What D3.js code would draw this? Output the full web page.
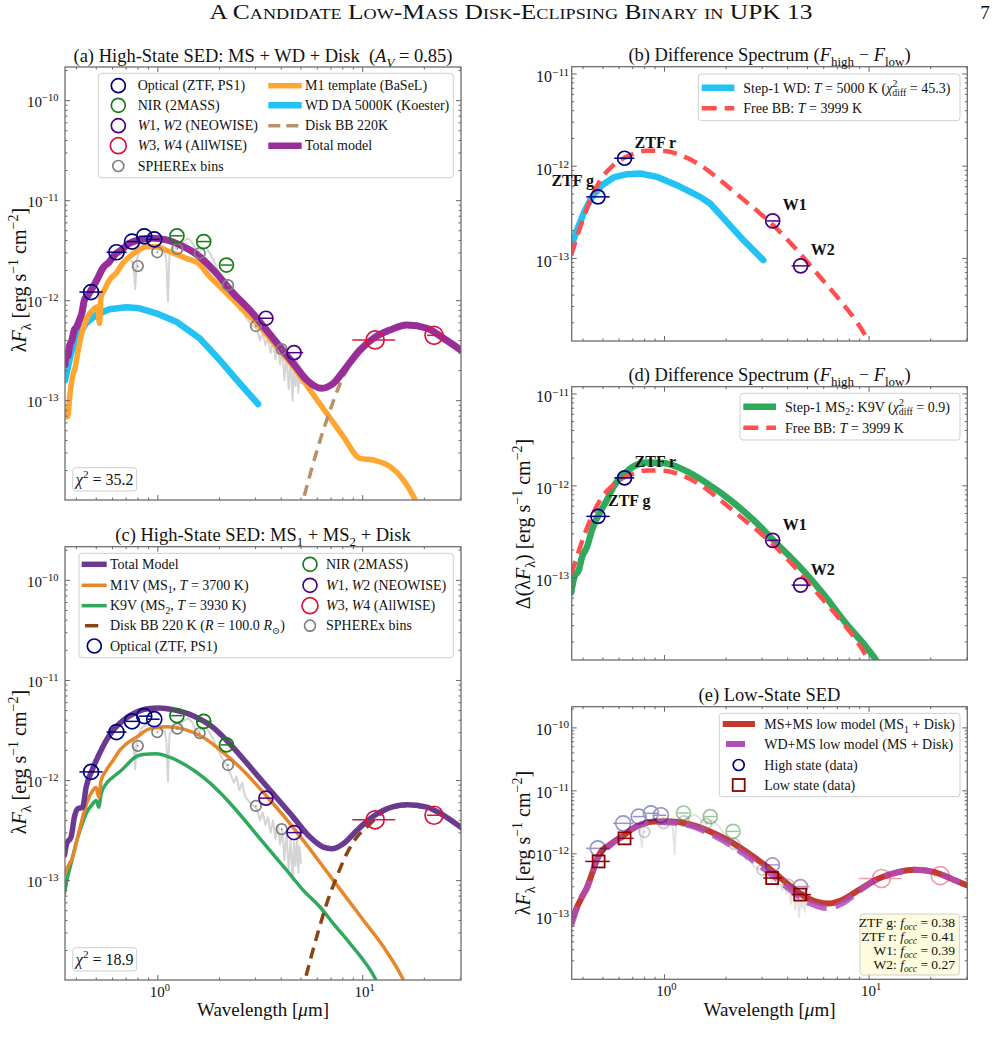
<!DOCTYPE html>
<html>
<head>
<meta charset="utf-8">
<script src="https://cdn.jsdelivr.net/npm/d3@7"></script>
<style>
  body { margin: 0; background: #fff; }
  svg text { font-family: "Liberation Serif", "DejaVu Serif", serif; fill: #111; }
</style>
</head>
<body>
<div id="figure"></div>
<script>
// ------------------ DATA ------------------
// wavelengths in micron, fluxes as lambda*F_lambda in erg s^-1 cm^-2

// high-state photometry
const optLam  = [0.472, 0.628, 0.748, 0.858, 0.960];
const optFlux = [1.22e-12, 3.05e-12, 3.90e-12, 4.40e-12, 4.10e-12];
const optLo   = [0.414, 0.561, 0.700, 0.810, 0.890];
const optHi   = [0.537, 0.703, 0.800, 0.930, 1.020];

const nirLam  = [1.239, 1.674, 2.162];
const nirFlux = [4.45e-12, 3.90e-12, 2.27e-12];
const nirLo   = [1.16, 1.55, 2.02];
const nirHi   = [1.32, 1.80, 2.31];

const neoLam  = [3.37, 4.62];
const neoFlux = [6.67e-13, 3.02e-13];
const neoLo   = [3.12, 4.32];
const neoHi   = [3.65, 5.12];

const allwiseLam  = [11.5, 22.3];
const allwiseFlux = [4.05e-13, 4.50e-13];
const allwiseLo   = [8.9, 20.6];
const allwiseHi   = [14.4, 23.9];

const spxLam  = [0.798, 0.993, 1.244, 1.60, 2.20, 3.01, 4.02];
const spxFlux = [2.22e-12, 3.05e-12, 3.30e-12, 2.98e-12, 1.43e-12, 5.58e-13, 3.27e-13];

// SPHEREx spectrum (grey, behind everything)
const spxSpectrum = [
  [0.74,2.5e-12],[0.76,2.3e-12],[0.775,1.3e-12],[0.79,2.6e-12],[0.81,3.0e-12],[0.84,3.4e-12],[0.88,3.6e-12],
  [0.93,3.5e-12],[0.98,3.3e-12],[1.03,3.2e-12],[1.08,3.1e-12],[1.10,2.5e-12],[1.12,9.8e-13],[1.14,2.9e-12],
  [1.19,3.3e-12],[1.26,3.5e-12],[1.33,3.9e-12],[1.40,4.2e-12],[1.46,3.9e-12],[1.52,3.3e-12],[1.58,3.1e-12],
  [1.65,3.3e-12],[1.72,3.4e-12],[1.79,3.0e-12],[1.86,2.6e-12],[1.95,2.1e-12],[2.05,1.7e-12],[2.15,1.45e-12],
  [2.25,1.2e-12],[2.35,9.5e-13],[2.42,1.1e-12],[2.5,8.0e-13],[2.58,9.5e-13],[2.66,7.0e-13],[2.75,6.4e-13],
  [2.85,5.8e-13],[2.95,5.5e-13],[3.05,5.2e-13],[3.15,4.0e-13],[3.25,4.8e-13],[3.35,3.6e-13],[3.45,4.3e-13],
  [3.55,3.0e-13],[3.65,4.0e-13],[3.75,2.6e-13],[3.85,3.6e-13],[3.95,2.3e-13],[4.05,3.2e-13],[4.15,1.6e-13],
  [4.25,3.0e-13],[4.35,1.3e-13],[4.45,2.6e-13],[4.55,1.0e-13],[4.62,2.4e-13],[4.70,1.4e-13],[4.78,2.7e-13],
  [4.85,1.2e-13],[4.92,2.2e-13],[5.0,1.5e-13]
];

// panel (a) models
const aTotalModel = [
  [0.352,2.3e-13],[0.358,3.0e-13],[0.364,2.8e-13],[0.370,3.5e-13],[0.380,4.0e-13],[0.391,5.1e-13],[0.400,5.4e-13],
  [0.414,6.4e-13],[0.425,7.4e-13],[0.438,1.02e-12],[0.455,1.12e-12],[0.472,1.28e-12],[0.490,1.45e-12],
  [0.508,1.67e-12],[0.538,2.11e-12],[0.580,2.45e-12],[0.614,2.86e-12],[0.662,3.21e-12],[0.727,3.75e-12],
  [0.814,4.05e-12],[0.945,4.2e-12],[1.10,4.05e-12],[1.28,3.61e-12],[1.60,2.75e-12],[1.93,1.88e-12],
  [2.33,1.19e-12],[2.81,8.07e-13],[3.39,5.09e-13],[3.94,3.47e-13],[4.58,2.37e-13],[5.33,1.61e-13],
  [6.31,1.33e-13],[7.19,1.49e-13],[8.36,2.19e-13],[9.71,3.21e-13],[11.3,4.21e-13],[13.6,5.09e-13],
  [16.4,5.71e-13],[20.6,5.3e-13],[24.8,4.21e-13],[30.5,3.15e-13]
];
const aM1Template = [
  [0.350,8.1e-14],[0.3626,6.9e-14],[0.3726,1.19e-13],[0.3837,1.74e-13],[0.3955,2.19e-13],[0.4059,2.98e-13],
  [0.4295,5.09e-13],[0.4544,6.92e-13],[0.4807,8.07e-13],[0.5084,8.71e-13],[0.5184,5.94e-13],[0.5284,1.10e-12],
  [0.5483,1.28e-12],[0.580,1.61e-12],[0.6256,1.88e-12],[0.6743,2.37e-12],[0.7271,2.75e-12],[0.784,3.09e-12],
  [0.877,3.47e-12],[0.982,3.47e-12],[1.141,3.09e-12],[1.377,2.65e-12],[1.57,2.37e-12],[1.791,1.74e-12],
  [2.162,1.19e-12],[2.607,8.07e-13],[3.147,5.5e-13],[3.798,3.47e-13],[4.58,2.19e-13],[5.528,1.28e-13],
  [6.674,7.48e-14],[8.045,4.37e-14],[9.71,2.65e-14],[11.28,2.55e-14],[13.62,2.19e-14],[15.82,1.61e-14],
  [17.71,1.10e-14],[18.6,8.8e-15]
];
const aWDKoester = [
  [0.352,1.6e-13],[0.3768,2.98e-13],[0.4059,4.37e-13],[0.4463,5.94e-13],[0.4994,7.19e-13],[0.580,8.2e-13],
  [0.7003,8.59e-13],[0.8137,8.39e-13],[0.982,7.48e-13],[1.23,6.17e-13],[1.60,4.2e-13],[2.004,2.55e-13],
  [2.51,1.49e-13],[3.086,9.27e-14]
];
const aDiskBB = [
  [4.7,5e-15],[5.127,1.02e-14],[6.674,6.41e-14],[8.045,1.74e-13],[9.006,2.55e-13],[10.08,3.61e-13],
  [11.5,4.5e-13],[13.6,5.05e-13],[16.4,5.6e-13],[20.6,5.25e-13],[24.8,4.15e-13],[30.5,3.1e-13]
];

// panel (c) models
const cTotalModel = [
  [0.350,1.8e-13],[0.3585,2.34e-13],[0.3768,2.72e-13],[0.3912,4.31e-13],[0.4059,5.22e-13],[0.4295,5.42e-13],
  [0.4463,8.57e-13],[0.4807,1.31e-12],[0.518,1.85e-12],[0.559,2.51e-12],[0.603,3.16e-12],[0.6743,3.97e-12],
  [0.7546,4.62e-12],[0.877,5.19e-12],[1.019,5.31e-12],[1.184,5.11e-12],[1.483,4.45e-12],[1.858,3.4e-12],
  [2.328,2.15e-12],[2.917,1.26e-12],[3.655,7.37e-13],[4.58,4.31e-13],[5.528,2.72e-13],[6.422,2.16e-13],
  [7.06,2.08e-13],[8.045,2.34e-13],[9.357,3.17e-13],[10.87,4.15e-13],[13.12,5.22e-13],[16.44,5.73e-13],
  [20.6,5.42e-13],[24.83,4.48e-13],[30.5,3.35e-13]
];
const cM1V = [
  [0.350,1.15e-13],[0.370,1.48e-13],[0.3837,1.72e-13],[0.4059,2.72e-13],[0.4295,4.31e-13],[0.4544,6.32e-13],
  [0.4807,7.95e-13],[0.4994,8.57e-13],[0.5144,6.82e-13],[0.5284,1.0e-12],[0.559,1.26e-12],[0.603,1.58e-12],
  [0.6497,1.99e-12],[0.7003,2.32e-12],[0.784,2.7e-12],[0.911,3.28e-12],[1.099,3.45e-12],[1.326,3.28e-12],
  [1.661,2.7e-12],[2.08,1.91e-12],[2.607,1.26e-12],[3.266,7.64e-13],[4.091,4.48e-13],[5.127,2.52e-13],
  [6.422,1.37e-13],[8.045,7.41e-14],[10.08,4.02e-14],[12.63,2.18e-14],[15.54,1.09e-14],[17.06,7.2e-15]
];
const cK9V = [
  [0.350,7.5e-14],[0.3626,1.09e-13],[0.3768,1.48e-13],[0.398,2.34e-13],[0.4218,3.42e-13],[0.4463,4.65e-13],
  [0.4807,5.86e-13],[0.4994,6.32e-13],[0.5144,5.42e-13],[0.5284,7.37e-13],[0.559,9.27e-13],[0.603,1.08e-12],
  [0.662,1.26e-12],[0.7003,1.41e-12],[0.7546,1.65e-12],[0.8444,1.82e-12],[0.982,1.85e-12],[1.141,1.71e-12],
  [1.377,1.41e-12],[1.661,1.08e-12],[2.004,7.64e-13],[2.42,5.02e-13],[2.917,3.18e-13],[3.522,2.0e-13],
  [4.251,1.27e-13],[5.127,8.0e-14],[6.187,5.45e-14],[7.189,3.72e-14],[8.679,2.35e-14],[10.08,1.6e-14],
  [11.5,1.05e-14],[12.4,7.2e-15]
];
const cDiskBB = [
  [4.8,5e-15],[5.225,1.01e-14],[5.963,2.74e-14],[6.674,5.9e-14],[7.467,1.09e-13],[8.36,1.86e-13],
  [9.357,2.72e-13],[10.47,3.42e-13],[13.12,5.1e-13],[16.44,5.6e-13],[20.6,5.3e-13],[24.83,4.4e-13],[30.5,3.25e-13]
];

// difference spectrum (F_high - F_low)
const diffBand = ["ZTF g", "ZTF r", "W1", "W2"];
const diffLam  = [0.473, 0.638, 3.38, 4.63];
const diffFlux = [4.65e-13, 1.22e-12, 2.55e-13, 8.3e-14];
const diffLo   = [0.415, 0.568, 3.16, 4.18];
const diffHi   = [0.540, 0.712, 3.66, 5.14];

const bStep1WD = [
  [0.350,1.35e-13],[0.3737,2.03e-13],[0.4026,3.08e-13],[0.4423,4.65e-13],[0.495,6.22e-13],[0.5639,7.55e-13],
  [0.6555,8.19e-13],[0.7612,8.34e-13],[0.918,7.66e-13],[1.15,6.22e-13],[1.493,4.65e-13],[1.671,3.94e-13],
  [2.016,2.49e-13],[2.429,1.58e-13],[3.041,9.57e-14]
];
const freeBB3999 = [
  [0.350,1.08e-13],[0.388,2.2e-13],[0.4341,4.28e-13],[0.4857,7.05e-13],[0.5639,1.03e-12],[0.6805,1.32e-12],
  [0.8206,1.47e-12],[0.989,1.46e-12],[1.193,1.32e-12],[1.493,1.03e-12],[1.87,7.05e-13],[2.341,4.65e-13],
  [2.93,3.08e-13],[3.667,1.94e-13],[4.592,1.13e-13],[5.748,6.32e-14],[7.195,3.53e-14],[8.68,2.06e-14],
  [9.89,1.3e-14],[10.66,9.7e-15]
];
const dStep1K9V = [
  [0.350,6.9e-14],[0.3627,1.02e-13],[0.3806,1.2e-13],[0.3955,1.68e-13],[0.4182,2.16e-13],[0.4423,3.3e-13],
  [0.4857,5.24e-13],[0.5236,7.03e-13],[0.5639,9.82e-13],[0.631,1.32e-12],[0.7061,1.63e-12],[0.8206,1.8e-12],
  [0.989,1.77e-12],[1.238,1.5e-12],[1.61,1.07e-12],[2.092,7.03e-13],[2.718,4.25e-13],[3.534,2.36e-13],
  [4.592,1.31e-13],[5.966,6.68e-14],[7.76,3.13e-14],[9.71,1.74e-14],[10.87,1.24e-14],[11.53,9.7e-15]
];

// panel (e) low-state
const lowLam  = [0.4766, 0.638, 3.36, 4.61];
const lowFlux = [7.56e-13, 1.76e-12, 4.12e-13, 2.25e-13];
const lowLo   = [0.410, 0.586, 3.04, 4.18];
const lowHi   = [0.540, 0.706, 3.74, 5.20];

const eMSMSLow = [
  [0.350,8.3e-14],[0.3737,1.43e-13],[0.3955,2.06e-13],[0.4182,2.96e-13],[0.4423,4.83e-13],[0.468,8.34e-13],
  [0.495,1.13e-12],[0.533,1.35e-12],[0.5746,1.62e-12],[0.631,1.95e-12],[0.6934,2.48e-12],[0.7757,2.98e-12],
  [0.901,3.27e-12],[1.087,3.27e-12],[1.31,2.98e-12],[1.64,2.33e-12],[2.132,1.52e-12],[2.669,9.4e-13],
  [3.341,5.45e-13],[4.183,2.96e-13],[5.04,1.95e-13],[6.31,1.62e-13],[7.335,1.83e-13],[8.84,2.63e-13],
  [11.06,4.03e-13],[13.85,5.12e-13],[16.71,5.58e-13],[20.92,5.12e-13],[25.23,4.03e-13],[30.5,3.1e-13]
];
const eWDMSLow = [
  [0.350,7.2e-14],[0.374,1.4e-13],[0.395,2.1e-13],[0.418,2.8e-13],[0.442,4.7e-13],[0.468,8.0e-13],
  [0.495,1.08e-12],[0.533,1.3e-12],[0.575,1.6e-12],[0.631,1.9e-12],[0.693,2.45e-12],[0.776,2.95e-12],
  [0.901,3.2e-12],[1.087,3.15e-12],[1.31,2.85e-12],[1.64,2.15e-12],[2.13,1.35e-12],[2.67,8.2e-13],
  [3.34,4.7e-13],[4.18,2.6e-13],[5.04,1.7e-13],[6.31,1.38e-13],[7.3,1.6e-13],[8.84,2.5e-13],
  [11.06,4.0e-13],[13.85,5.1e-13],[16.7,5.58e-13],[20.9,5.12e-13],[25.2,4.03e-13],[30.5,3.1e-13]
];

const foccBand  = ["ZTF g", "ZTF r", "W1", "W2"];
const foccValue = ["0.38", "0.41", "0.39", "0.27"];

// ------------------ SETUP ------------------
const xDomain = [0.352, 30.2];
const sedDomain = [1.016e-14, 2.17e-10];
const diffDomain = [1.27e-14, 1.2e-11];

const C = {
  navy: "#000080", green: "#167c16", indigo: "#4b0082", crimson: "#dc143c", grey: "#808080",
  aTotal: "#982e98", aM1: "#ffa632", aWD: "#22c3f4", aDisk: "#b8916c",
  cTotal: "#6b3a8e", cM1: "#e8862a", cK9: "#2faa5c", cDisk: "#8b4513",
  bbRed: "#ff4f4f", lowRed: "#c33b2c", lowMag: "#b14cbb", lowSq: "#8b0000"
};
const TITLE_SIZE = 18.5, YLABEL_SIZE = 20, XLABEL_SIZE = 19, LEG = 14;

const svg = d3.select("#figure").append("svg").attr("width", 1004).attr("height", 1044);
svg.append("rect").attr("width", 1004).attr("height", 1044).attr("fill", "#fff");
const defs = svg.append("defs");

// rich text: parts are strings or [text, style, dx]; style words: i, sub, sup
function rich(txt, parts, size) {
  let shift = 0;
  parts.forEach(p => {
    const [str, st, dx] = typeof p === "string" ? [p, "", 0] : [p[0], p[1] || "", p[2] || 0];
    const flags = st.split(" ");
    let target = 0;
    if (flags.includes("sub")) target = 0.25 * size;
    if (flags.includes("sup")) target = -0.42 * size;
    const t = txt.append("tspan").text(str).attr("dy", target - shift);
    if (dx) t.attr("dx", dx);
    shift = target;
    if (target !== 0) t.style("font-size", (0.7 * size) + "px");
    if (flags.includes("i")) t.style("font-style", "italic");
  });
  return txt;
}

function textAt(g, x, y, parts, size, anchor) {
  const t = g.append("text").attr("x", x).attr("y", y)
    .attr("text-anchor", anchor || "start").style("font-size", size + "px");
  return rich(t, parts, size);
}

function makePanel(id, box, yDomain) {
  const x = d3.scaleLog().domain(xDomain).range([box.left, box.right]);
  const y = d3.scaleLog().domain(yDomain).range([box.bottom, box.top]);
  defs.append("clipPath").attr("id", "clip-" + id).append("rect")
    .attr("x", box.left).attr("y", box.top)
    .attr("width", box.right - box.left).attr("height", box.bottom - box.top);
  const g = svg.append("g").attr("class", "panel-" + id);
  return {
    id, box, x, y,
    plot: g.append("g").attr("clip-path", `url(#clip-${id})`),
    marks: g.append("g"),
    axes: g.append("g"),
    legend: g.append("g")
  };
}

const isMajor = t => Math.abs(Math.log10(t) - Math.round(Math.log10(t))) < 1e-9;
const expText = t => String(Math.round(Math.log10(t))).replace("-", "\u2212");

function drawAxes(p, o) {
  const { left, right, top, bottom } = p.box;
  const a = p.axes;
  const tickLine = (x1, y1, x2, y2) => a.append("line")
    .attr("x1", x1).attr("y1", y1).attr("x2", x2).attr("y2", y2)
    .attr("stroke", "#666").attr("stroke-width", 1);

  p.x.ticks().forEach(t => {
    const xx = p.x(t), len = isMajor(t) ? 5 : 2.5;
    tickLine(xx, bottom, xx, bottom - len);
    tickLine(xx, top, xx, top + len);
  });
  p.y.ticks().forEach(t => {
    const yy = p.y(t), len = isMajor(t) ? 5 : 2.5;
    tickLine(left, yy, left + len, yy);
    tickLine(right, yy, right - len, yy);
  });
  a.append("rect").attr("x", left).attr("y", top)
    .attr("width", right - left).attr("height", bottom - top)
    .attr("fill", "none").attr("stroke", "#6e6e6e").attr("stroke-width", 1.3);

  p.y.ticks().filter(isMajor).forEach(t => {
    textAt(a, left - o.yGap, p.y(t) + o.yBase, ["10", [expText(t), "sup"]], o.tickSize, "end");
  });
  if (o.xTicks) {
    p.x.ticks().filter(isMajor).forEach(t => {
      textAt(a, p.x(t) + 2, bottom + 17, ["10", [expText(t), "sup"]], 15, "middle");
    });
    textAt(a, (left + right) / 2, 1016, ["Wavelength [", ["\u03bc", "i"], "m]"], XLABEL_SIZE, "middle");
  }
  if (o.title) textAt(a, (left + right) / 2, o.titleY, o.title, TITLE_SIZE, "middle");
  if (o.yLabel) {
    const t = a.append("text").attr("text-anchor", "middle").style("font-size", YLABEL_SIZE + "px")
      .attr("transform", `translate(${o.yLabelX},${o.yLabelY}) rotate(-90)`);
    rich(t, o.yLabel, YLABEL_SIZE);
  }
}

function drawLine(p, data, color, width, dash, curve, opacity) {
  const line = d3.line().x(d => p.x(d[0])).y(d => p.y(d[1])).curve(curve || d3.curveMonotoneX);
  return p.plot.append("path").datum(data).attr("d", line)
    .attr("fill", "none").attr("stroke", color).attr("stroke-width", width)
    .attr("stroke-dasharray", dash || null)
    .attr("stroke-linejoin", "round").attr("stroke-linecap", dash ? "butt" : "round")
    .attr("opacity", opacity == null ? 1 : opacity);
}

function drawPoints(p, lam, flux, lo, hi, color, r, opacity, dot) {
  const pts = lam.map((l, i) => ({ l, f: flux[i], lo: lo ? lo[i] : null, hi: hi ? hi[i] : null }));
  const g = p.marks.append("g").attr("opacity", opacity == null ? 1 : opacity);
  g.selectAll("line").data(pts.filter(d => d.lo != null)).join("line")
    .attr("x1", d => p.x(d.lo)).attr("x2", d => p.x(d.hi))
    .attr("y1", d => p.y(d.f)).attr("y2", d => p.y(d.f))
    .attr("stroke", color).attr("stroke-width", 1.5);
  g.selectAll("circle.pt").data(pts).join("circle").attr("class", "pt")
    .attr("cx", d => p.x(d.l)).attr("cy", d => p.y(d.f)).attr("r", r)
    .attr("fill", "none").attr("stroke", color).attr("stroke-width", 1.7);
  if (dot) {
    g.selectAll("circle.dot").data(pts).join("circle").attr("class", "dot")
      .attr("cx", d => p.x(d.l)).attr("cy", d => p.y(d.f)).attr("r", 0.9).attr("fill", color);
  }
  return g;
}

function drawHighStatePhotometry(p, opacity) {
  drawPoints(p, spxLam, spxFlux, null, null, C.grey, 5.3, opacity, true);
  drawPoints(p, optLam, optFlux, optLo, optHi, C.navy, 7.5, opacity);
  drawPoints(p, nirLam, nirFlux, nirLo, nirHi, C.green, 7, opacity);
  drawPoints(p, neoLam, neoFlux, neoLo, neoHi, C.indigo, 7, opacity);
  drawPoints(p, allwiseLam, allwiseFlux, allwiseLo, allwiseHi, C.crimson, 9, opacity);
}

// legend helpers
function legBox(g, x1, y1, x2, y2, fill) {
  g.append("rect").attr("x", x1).attr("y", y1).attr("width", x2 - x1).attr("height", y2 - y1)
    .attr("rx", 3).attr("fill", fill || "#fff").attr("fill-opacity", 0.85)
    .attr("stroke", "#cfcfcf").attr("stroke-width", 1);
}
function legLine(g, x1, x2, y, color, width, dash) {
  g.append("line").attr("x1", x1).attr("x2", x2).attr("y1", y).attr("y2", y)
    .attr("stroke", color).attr("stroke-width", width).attr("stroke-dasharray", dash || null);
}
function legCircle(g, cx, cy, r, color) {
  g.append("circle").attr("cx", cx).attr("cy", cy).attr("r", r)
    .attr("fill", "none").attr("stroke", color).attr("stroke-width", 1.7);
}

const yLabelSED = ["\u03bb", ["F", "i"], ["\u03bb", "sub"], " [erg s", ["\u22121", "sup"], " cm", ["\u22122", "sup"], "]"];
const chi2 = (v) => [["\u03c7", "i"], ["2", "sup"], " = " + v];

// ------------------ HEADER ------------------
svg.append("text").attr("x", 511).attr("y", 19).attr("text-anchor", "middle")
  .style("font-size", "21px").style("font-variant", "small-caps")
  .attr("textLength", 603).attr("lengthAdjust", "spacingAndGlyphs")
  .text("A Candidate Low-Mass Disk-Eclipsing Binary in UPK 13");
svg.append("text").attr("x", 985).attr("y", 19).attr("text-anchor", "middle")
  .style("font-size", "19px").text("7");

// ------------------ PANEL (a) ------------------
const pA = makePanel("a", { left: 65, right: 461, top: 67, bottom: 500 }, sedDomain);
drawLine(pA, spxSpectrum, "#d4d4d4", 2, null, d3.curveLinear);
drawLine(pA, aWDKoester, C.aWD, 6.5, null, d3.curveLinear);
drawLine(pA, aM1Template, C.aM1, 5.5);
drawLine(pA, aDiskBB, C.aDisk, 3.5, "11 7");
drawLine(pA, aTotalModel, C.aTotal, 7);
drawHighStatePhotometry(pA, 1);
drawAxes(pA, {
  yGap: 6.5, yBase: 6.5, tickSize: 15, titleY: 62,
  title: ["(a) High-State SED: MS + WD + Disk\u00a0 (", ["A", "i"], ["V", "i sub"], " = 0.85)"],
  yLabel: yLabelSED, yLabelX: 26, yLabelY: 280
});
{
  const g = pA.legend;
  legBox(g, 98.3, 73.3, 453.3, 177.7);
  const rows = [85.7, 105.3, 125.7, 145.7, 166];
  legCircle(g, 118.3, rows[0], 7, C.navy);
  legCircle(g, 118.3, rows[1], 7, C.green);
  legCircle(g, 118.3, rows[2], 7, C.indigo);
  legCircle(g, 118.3, rows[3], 8, C.crimson);
  legCircle(g, 118.3, rows[4], 5.5, C.grey);
  textAt(g, 137.7, rows[0] + 4.5, ["Optical (ZTF, PS1)"], LEG);
  textAt(g, 137.7, rows[1] + 4.5, ["NIR (2MASS)"], LEG);
  textAt(g, 137.7, rows[2] + 4.5, [["W", "i"], "1, ", ["W", "i"], "2 (NEOWISE)"], LEG);
  textAt(g, 137.7, rows[3] + 4.5, [["W", "i"], "3, ", ["W", "i"], "4 (AllWISE)"], LEG);
  textAt(g, 137.7, rows[4] + 4.5, ["SPHEREx bins"], LEG);
  legLine(g, 268.3, 301.7, rows[0], C.aM1, 5.5);
  legLine(g, 268.3, 301.7, rows[1], C.aWD, 6.5);
  legLine(g, 268.3, 301.7, rows[2], C.aDisk, 3.5, "12 6");
  legLine(g, 268.3, 301.7, rows[3], C.aTotal, 6.5);
  textAt(g, 305, rows[0] + 4.5, ["M1 template (BaSeL)"], LEG);
  textAt(g, 305, rows[1] + 4.5, ["WD DA 5000K (Koester)"], LEG);
  textAt(g, 305, rows[2] + 4.5, ["Disk BB 220K"], LEG);
  textAt(g, 305, rows[3] + 4.5, ["Total model"], LEG);
  legBox(g, 72.7, 467.7, 136.7, 491);
  textAt(g, 104.7, 484.5, chi2("35.2"), 16, "middle");
}

// ------------------ PANEL (c) ------------------
const pC = makePanel("c", { left: 65, right: 461, top: 546.7, bottom: 980 }, sedDomain);
drawLine(pC, spxSpectrum, "#d4d4d4", 2, null, d3.curveLinear);
drawLine(pC, cK9V, C.cK9, 3.5);
drawLine(pC, cM1V, C.cM1, 3.5);
drawLine(pC, cDiskBB, C.cDisk, 3.5, "11 7");
drawLine(pC, cTotalModel, C.cTotal, 5.5);
drawHighStatePhotometry(pC, 1);
drawAxes(pC, {
  yGap: 6.5, yBase: 6.5, tickSize: 15, titleY: 541, xTicks: true,
  title: ["(c) High-State SED: MS", ["1", "sub"], " + MS", ["2", "sub"], " + Disk"],
  yLabel: yLabelSED, yLabelX: 26, yLabelY: 762
});
{
  const g = pC.legend;
  legBox(g, 79, 553.3, 453.3, 657.7);
  const rows = [564.3, 585.3, 605.7, 625.7, 646];
  legLine(g, 81.7, 106.7, rows[0], C.cTotal, 5.5);
  legLine(g, 81.7, 106.7, rows[1], C.cM1, 3.5);
  legLine(g, 81.7, 106.7, rows[2], C.cK9, 3.5);
  legLine(g, 85, 98.3, rows[3], C.cDisk, 3.5);
  legCircle(g, 94.3, rows[4], 7, C.navy);
  textAt(g, 110, rows[0] + 4.5, ["Total Model"], LEG);
  textAt(g, 110, rows[1] + 4.5, ["M1V (MS", ["1", "sub"], ", ", ["T", "i"], " = 3700 K)"], LEG);
  textAt(g, 110, rows[2] + 4.5, ["K9V (MS", ["2", "sub"], ", ", ["T", "i"], " = 3930 K)"], LEG);
  textAt(g, 110, rows[3] + 4.5, ["Disk BB 220 K (", ["R", "i"], " = 100.0 ", ["R", "i"], ["\u2299", "sub"], ")"], LEG);
  textAt(g, 110, rows[4] + 4.5, ["Optical (ZTF, PS1)"], LEG);
  legCircle(g, 310, rows[0], 7, C.green);
  legCircle(g, 310, rows[1], 7, C.indigo);
  legCircle(g, 310, rows[2], 8, C.crimson);
  legCircle(g, 310, rows[3], 5.5, C.grey);
  textAt(g, 326, rows[0] + 4.5, ["NIR (2MASS)"], LEG);
  textAt(g, 326, rows[1] + 4.5, [["W", "i"], "1, ", ["W", "i"], "2 (NEOWISE)"], LEG);
  textAt(g, 326, rows[2] + 4.5, [["W", "i"], "3, ", ["W", "i"], "4 (AllWISE)"], LEG);
  textAt(g, 326, rows[3] + 4.5, ["SPHEREx bins"], LEG);
  legBox(g, 72.7, 947.7, 136.7, 971);
  textAt(g, 104.7, 964.5, chi2("18.9"), 16, "middle");
}

// ------------------ DIFFERENCE PANELS (b), (d) ------------------
const diffTitle = (tag) => [tag + " Difference Spectrum (", ["F", "i"], ["high", "sub"], " \u2212 ", ["F", "i"], ["low", "sub"], ")"];

function drawDiffPoints(p, gLabelLeft) {
  const navyPts = [0, 1], wisePts = [2, 3];
  drawPoints(p, navyPts.map(i => diffLam[i]), navyPts.map(i => diffFlux[i]),
    navyPts.map(i => diffLo[i]), navyPts.map(i => diffHi[i]), C.navy, 7);
  drawPoints(p, wisePts.map(i => diffLam[i]), wisePts.map(i => diffFlux[i]),
    wisePts.map(i => diffLo[i]), wisePts.map(i => diffHi[i]), C.indigo, 7);
  diffBand.forEach((name, i) => {
    const px = p.x(diffLam[i]), py = p.y(diffFlux[i]);
    const left = (i === 0 && gLabelLeft);
    p.legend.append("text").attr("x", left ? px - 4 : px + 10).attr("y", py - 10.5)
      .attr("text-anchor", left ? "end" : "start")
      .style("font-size", "16px").style("font-weight", "bold").text(name);
  });
}

const pB = makePanel("b", { left: 571.7, right: 967.3, top: 66.7, bottom: 341 }, diffDomain);
drawLine(pB, bStep1WD, C.aWD, 6.5, null, d3.curveLinear);
drawLine(pB, freeBB3999, C.bbRed, 4.5, "14 8");
drawDiffPoints(pB, true);
drawAxes(pB, { yGap: 2.5, yBase: 8.5, tickSize: 16, titleY: 61, title: diffTitle("(b)") });
{
  const g = pB.legend;
  legBox(g, 698.3, 74, 960, 120.7);
  legLine(g, 701.7, 734.3, 87.7, C.aWD, 6.5);
  legLine(g, 701.7, 734.3, 108.3, C.bbRed, 4.5, "15 8");
  textAt(g, 743.3, 92.5, ["Step-1 WD: ", ["T", "i"], " = 5000 K (", ["\u03c7", "i"], ["2", "sup"], ["diff", "sub", -5], " = 45.3)"], LEG);
  textAt(g, 743.3, 113, ["Free BB: ", ["T", "i"], " = 3999 K"], LEG);
}

const pD = makePanel("d", { left: 571.7, right: 967.3, top: 386.7, bottom: 660 }, diffDomain);
drawLine(pD, dStep1K9V, C.cK9, 6.5);
drawLine(pD, freeBB3999, C.bbRed, 4.5, "14 8");
drawDiffPoints(pD, false);
drawAxes(pD, {
  yGap: 2.5, yBase: 8.5, tickSize: 16, titleY: 381, title: diffTitle("(d)"),
  yLabel: ["\u0394(\u03bb", ["F", "i"], ["\u03bb", "sub"], ") [erg s", ["\u22121", "sup"], " cm", ["\u22122", "sup"], "]"],
  yLabelX: 530, yLabelY: 524
});
{
  const g = pD.legend;
  legBox(g, 740, 393.3, 960, 440);
  legLine(g, 743.3, 776, 406.7, C.cK9, 6.5);
  legLine(g, 743.3, 776, 427.7, C.bbRed, 4.5, "15 8");
  textAt(g, 785, 411.5, ["Step-1 MS", ["2", "sub"], ": K9V (", ["\u03c7", "i"], ["2", "sup"], ["diff", "sub", -5], " = 0.9)"], LEG);
  textAt(g, 785, 432.5, ["Free BB: ", ["T", "i"], " = 3999 K"], LEG);
}

// ------------------ PANEL (e) ------------------
const pE = makePanel("e", { left: 571.7, right: 967.3, top: 706.7, bottom: 979.3 }, sedDomain);
drawLine(pE, spxSpectrum, "#e4e4e4", 2, null, d3.curveLinear);
drawHighStatePhotometry(pE, 0.42);
drawLine(pE, eMSMSLow, C.lowRed, 6);
drawLine(pE, eWDMSLow, C.lowMag, 6, "20 9", null, 0.85);
{
  const pts = lowLam.map((l, i) => ({ l, f: lowFlux[i], lo: lowLo[i], hi: lowHi[i] }));
  const g = pE.marks.append("g");
  g.selectAll("line").data(pts).join("line")
    .attr("x1", d => pE.x(d.lo)).attr("x2", d => pE.x(d.hi))
    .attr("y1", d => pE.y(d.f)).attr("y2", d => pE.y(d.f))
    .attr("stroke", C.lowSq).attr("stroke-width", 1.5);
  g.selectAll("rect").data(pts).join("rect")
    .attr("x", d => pE.x(d.l) - 6).attr("y", d => pE.y(d.f) - 6)
    .attr("width", 12).attr("height", 12)
    .attr("fill", "none").attr("stroke", C.lowSq).attr("stroke-width", 1.8);
}
drawAxes(pE, {
  yGap: 2.5, yBase: 7, tickSize: 16, titleY: 701, xTicks: true,
  title: ["(e) Low-State SED"], yLabel: yLabelSED, yLabelX: 530, yLabelY: 843
});
{
  const g = pE.legend;
  legBox(g, 719.3, 713.3, 960, 796.7);
  legLine(g, 722.7, 755, 724, C.lowRed, 6);
  legLine(g, 726, 745, 744, C.lowMag, 6);
  g.append("circle").attr("cx", 738.7).attr("cy", 765).attr("r", 5.5)
    .attr("fill", "none").attr("stroke", C.navy).attr("stroke-width", 1.7);
  g.append("rect").attr("x", 732.7).attr("y", 779).attr("width", 12).attr("height", 12)
    .attr("fill", "none").attr("stroke", C.lowSq).attr("stroke-width", 1.8);
  textAt(g, 764.3, 729, ["MS+MS low model (MS", ["1", "sub"], " + Disk)"], LEG);
  textAt(g, 764.3, 749, ["WD+MS low model (MS + Disk)"], LEG);
  textAt(g, 764.3, 769.5, ["High state (data)"], LEG);
  textAt(g, 764.3, 789.5, ["Low state (data)"], LEG);

  legBox(g, 860, 914, 959.3, 975, "#fdfbd8");
  foccBand.forEach((b, i) => {
    textAt(g, 955, 927 + i * 14, [b + ": ", ["f", "i"], ["occ", "i sub"], " = " + foccValue[i]], 13.5, "end");
  });
}
</script>
</body>
</html>
